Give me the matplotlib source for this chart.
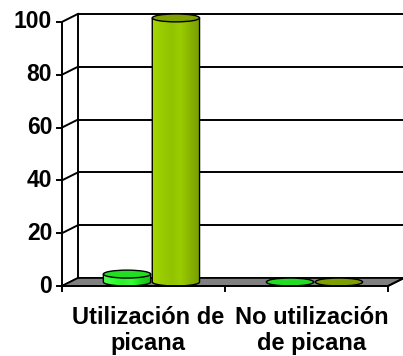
import matplotlib.pyplot as plt
import numpy as np
from matplotlib.patches import Polygon, Ellipse
from matplotlib.colors import LinearSegmentedColormap

plt.rcParams['font.family'] = ['Liberation Sans', 'DejaVu Sans']

categories = ["Utilización de\npicana", "No utilización\nde picana"]
serie1 = [3, 0]
serie2 = [100, 0]
yticks = [0, 20, 40, 60, 80, 100]

# colours: top, body bands (left -> right)
col1_top = "#22dd22"
col1_body = ["#55ff55", "#33ff33", "#2ef02e", "#33ff33", "#20d820", "#18c018"]
col2_top = "#7f9f00"
col2_body = ["#a6d800", "#99cc00", "#93c300", "#99cc00", "#88b400", "#7a9e00"]

# depth offset of the back wall (data units)
dx = 0.098
dy = 3.03
w = 0.29
ry = 1.5

fig = plt.figure(figsize=(4.03, 3.56), dpi=100)
ax = fig.add_axes([0, 0, 1, 1])
ax.set_xlim(-0.880, 1.592)
ax.set_ylim(-26.5, 108.3)
ax.axis("off")

x0, x1 = -0.5, 1.5

# back wall grid
for v in yticks:
    ax.plot([x0 + dx, x1 + dx + 0.2], [v + dy, v + dy], color="black", lw=1.4, zorder=1)
    ax.plot([x0, x0 + dx], [v, v + dy], color="black", lw=1.4, zorder=1)
ax.plot([x0 + dx, x0 + dx], [dy, 100 + dy], color="black", lw=1.4, zorder=1)

# floor
floor = Polygon([[x0, 0], [x1, 0], [x1 + dx, dy], [x0 + dx, dy]], closed=True,
                facecolor="#808080", edgecolor="black", lw=1.2, zorder=2)
ax.add_patch(floor)


def cylinder(xc, val, top, body):
    cx = xc + dx / 2
    base = dy / 2
    h = val + base
    if val > 0:
        t = np.linspace(np.pi, 2 * np.pi, 40)
        xs = np.concatenate([[cx - w / 2], cx + w / 2 * np.cos(t), [cx + w / 2]])
        ys = np.concatenate([[h], base + ry * np.sin(t), [h]])
        shape = Polygon(np.column_stack([xs, ys]), closed=True, facecolor="none",
                        edgecolor="black", lw=1.0, zorder=4)
        ax.add_patch(shape)
        cmap = LinearSegmentedColormap.from_list("c", body)
        img = ax.imshow(np.linspace(0, 1, 100)[None, :], cmap=cmap, aspect="auto",
                        extent=[cx - w / 2, cx + w / 2, base - ry, h], zorder=3,
                        interpolation="nearest")
        img.set_clip_path(shape)
    ax.add_patch(Ellipse((cx, h), w, 2 * ry, facecolor=top, edgecolor="black",
                         lw=1.0, zorder=5))


for i in range(len(categories)):
    cylinder(i - 0.15, serie1[i], col1_top, col1_body)
    cylinder(i + 0.15, serie2[i], col2_top, col2_body)

# front axes
ax.plot([x0, x0], [0, 100], color="black", lw=1.4, zorder=6)
ax.plot([x0, x1], [0, 0], color="black", lw=1.4, zorder=6)
ax.plot([x1, x1 + dx], [0, dy], color="black", lw=1.4, zorder=6)
for v in yticks:
    ax.plot([x0 - 0.03, x0], [v, v], color="black", lw=1.4, zorder=6)
    ax.text(x0 - 0.06, v, str(v), ha="right", va="center", fontsize=16.5,
            fontweight="bold")
for xt in [-0.5, 0.5, 1.5]:
    ax.plot([xt, xt], [0, -2], color="black", lw=1.4, zorder=6)
for i, lab in enumerate(categories):
    ax.text(i + 0.03, -7.5, lab, ha="center", va="top", fontsize=17,
            fontweight="bold", linespacing=1.2)

fig.savefig("out.png", dpi=100)
